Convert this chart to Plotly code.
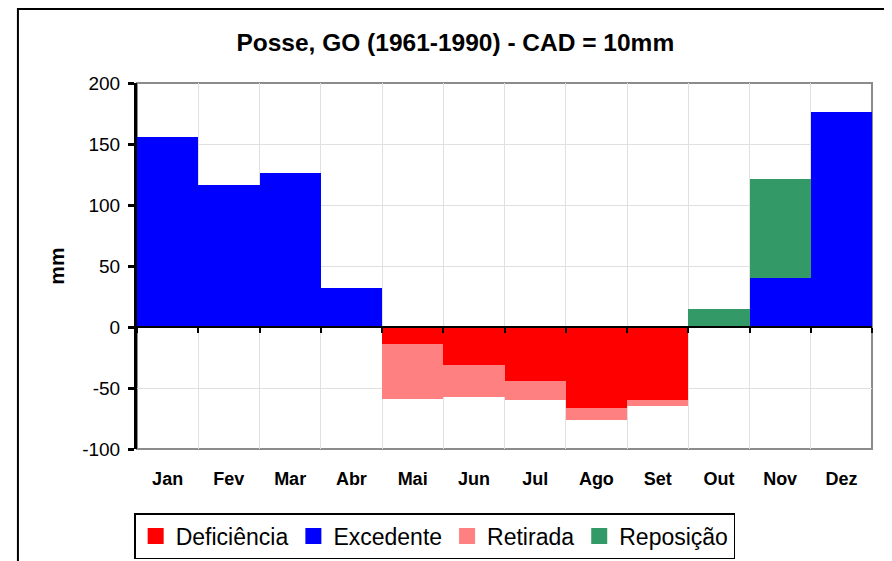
import numpy as np
import plotly.graph_objects as go

months = ["Jan", "Fev", "Mar", "Abr", "Mai", "Jun", "Jul", "Ago", "Set", "Out", "Nov", "Dez"]
deficiencia = [0, 0, 0, 0, -14, -31, -44, -66, -60, 0, 0, 0]
excedente = [156, 116, 126, 32, 0, 0, 0, 0, 0, 0, 40, 176]
retirada = [0, 0, 0, 0, -45, -26, -16, -10, -5, 0, 0, 0]
reposicao = [0, 0, 0, 0, 0, 0, 0, 0, 0, 15, 81, 0]
y_tick_values = [-100, -50, 0, 50, 100, 150, 200]
y_tick_labels = ["-100", "-50", "0", "50", "100", "150", "200"]

series = [
    ("Deficiência", deficiencia, "#FF0000"),
    ("Excedente", excedente, "#0000FF"),
    ("Retirada", retirada, "#FF8080"),
    ("Reposição", reposicao, "#339966"),
]

FONT = "Liberation Sans, Arial, sans-serif"

fig = go.Figure()
for name, vals, col in series:
    fig.add_trace(go.Bar(x=months, y=vals, name=name, marker=dict(color=col, line=dict(width=0)),
                         width=1.0, showlegend=False))
# legend entries with larger square swatches
for name, vals, col in series:
    fig.add_trace(go.Scatter(x=[None], y=[None], name=name, mode="markers",
                             marker=dict(symbol="square", size=16, color=col), hoverinfo="skip"))

n = len(months)
bounds = list(np.arange(-0.5, n, 1.0))

fig.add_trace(go.Scatter(x=[bounds[0]], y=[0], xaxis="x2", mode="markers",
                         marker=dict(opacity=0), showlegend=False, hoverinfo="skip"))

fig.update_layout(
    width=884, height=553,
    margin=dict(l=129, r=20, t=75, b=112, autoexpand=False),
    paper_bgcolor="white", plot_bgcolor="white",
    barmode="relative", bargap=0,
    title=dict(text="<b>Posse, GO (1961-1990) - CAD = 10mm</b>", x=0.506, xanchor="center",
               y=0.937, yanchor="middle", font=dict(family=FONT, size=24.5, color="black")),
    font=dict(family=FONT, color="black"),
    xaxis=dict(range=[-0.5, n - 0.5], showgrid=False, showline=False, ticks="",
               tickfont=dict(family=FONT, size=18, color="black"), ticklabelstandoff=17,
               tickprefix="<b>", ticksuffix="</b>", zeroline=False, fixedrange=True),
    xaxis2=dict(overlaying="x", anchor="free", position=1/3, range=[-0.5, n - 0.5],
                tickmode="array", tickvals=bounds, showticklabels=False,
                showgrid=True, gridcolor="#E0E0E0", gridwidth=1,
                showline=True, linecolor="black", linewidth=2,
                ticks="outside", ticklen=5, tickwidth=2, tickcolor="black", zeroline=False),
    yaxis=dict(range=[-100, 200], tickmode="array", tickvals=y_tick_values, ticktext=y_tick_labels,
               showgrid=True, gridcolor="#E0E0E0", gridwidth=1,
               showline=True, linecolor="black", linewidth=3, ticks="outside", ticklen=6,
               tickwidth=3, tickcolor="black", zeroline=False, ticklabelstandoff=4,
               tickfont=dict(family=FONT, size=19, color="black"),
               title=dict(text="<b>mm</b>", font=dict(family=FONT, size=21, color="black"), standoff=12)),
    legend=dict(orientation="h", x=0.405, xanchor="center", y=-0.175, yanchor="top",
                bordercolor="black", borderwidth=1.5, bgcolor="white",
                font=dict(family=FONT, size=23, color="black"), itemwidth=30,
                tracegroupgap=0, traceorder="normal", itemsizing="trace"),
    showlegend=True,
)

fig.add_shape(type="rect", xref="paper", yref="paper", x0=0, x1=1, y0=0, y1=1,
              line=dict(color="#8C8C8C", width=2), layer="below")
fig.add_shape(type="rect", xref="paper", yref="paper", x0=-0.162, x1=1.023, y0=-0.35, y1=1.202,
              line=dict(color="black", width=2))

fig.write_html("out.html")
